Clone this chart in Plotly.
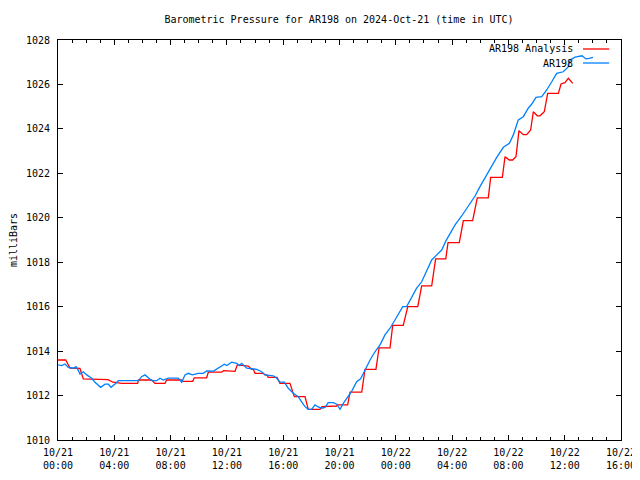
import pandas as pd
import plotly.graph_objects as go

# ---------------- data ----------------
START = pd.Timestamp("2024-10-21 00:00")

# AR198 Analysis (hours since 2024-10-21 00:00 UTC, millibars)
analysis_hours = [0.00, 0.55, 0.71, 0.85, 1.56, 1.80, 3.55, 3.91, 4.53, 5.66, 5.71, 6.66, 6.89, 7.60,
                  7.72, 8.79, 8.88, 9.57, 9.68, 10.56, 10.68, 11.63, 11.76, 11.86, 12.01, 12.58, 12.74,
                  13.52, 13.76, 13.88, 14.00, 14.59, 14.71, 14.83, 14.94, 15.56, 15.77, 16.48, 16.79,
                  17.55, 17.78, 18.61, 18.76, 19.11, 19.18, 19.80, 19.86, 20.58, 20.75, 21.58, 21.81,
                  22.59, 22.81, 23.59, 23.78, 24.53, 24.85, 25.56, 25.84, 26.55, 26.83, 27.55, 27.71,
                  28.51, 28.80, 29.46, 29.79, 30.57, 30.74, 31.57, 31.76, 32.06, 32.30, 32.54, 32.75,
                  33.06, 33.30, 33.58, 33.77, 34.05, 34.24, 34.55, 34.79, 35.55, 35.74, 36.02, 36.26,
                  36.57]
analysis_mb = [1013.60, 1013.60, 1013.41, 1013.24, 1013.22, 1012.75, 1012.72, 1012.60, 1012.55, 1012.55,
               1012.70, 1012.70, 1012.55, 1012.55, 1012.70, 1012.70, 1012.64, 1012.64, 1012.80, 1012.80,
               1013.05, 1013.05, 1013.12, 1013.12, 1013.09, 1013.09, 1013.38, 1013.33, 1013.18, 1013.18,
               1013.00, 1013.00, 1012.93, 1012.93, 1012.82, 1012.82, 1012.55, 1012.55, 1011.95, 1011.95,
               1011.38, 1011.38, 1011.50, 1011.50, 1011.53, 1011.53, 1011.58, 1011.58, 1012.15, 1012.15,
               1013.18, 1013.18, 1014.15, 1014.15, 1015.16, 1015.16, 1016.00, 1016.00, 1016.94, 1016.94,
               1018.15, 1018.15, 1018.88, 1018.88, 1019.87, 1019.87, 1020.90, 1020.90, 1021.82, 1021.82,
               1022.75, 1022.60, 1022.60, 1022.75, 1023.92, 1023.74, 1023.74, 1023.95, 1024.77, 1024.59,
               1024.59, 1024.77, 1025.60, 1025.60, 1026.02, 1026.08, 1026.28, 1026.05]

# AR198 observations
obs_hours = [0.02, 0.26, 0.50, 0.73, 1.09, 1.28, 1.45, 1.56, 1.80, 2.04, 2.39, 2.63, 3.03, 3.34, 3.58,
             3.77, 4.05, 4.29, 5.71, 5.94, 6.18, 6.42, 6.66, 7.01, 7.25, 7.48, 7.84, 8.55, 8.79, 9.02,
             9.26, 9.54, 9.97, 10.32, 10.56, 11.05, 11.51, 11.82, 11.99, 12.34, 12.70, 12.88, 13.05,
             13.41, 14.12, 14.47, 14.71, 15.30, 15.54, 15.77, 16.08, 16.36, 16.72, 17.07, 17.31, 17.55,
             17.78, 18.02, 18.26, 18.45, 18.73, 18.97, 19.20, 19.56, 19.80, 20.04, 20.27, 20.57, 20.87,
             21.22, 21.50, 21.81, 22.17, 22.52, 22.88, 23.23, 23.59, 23.94, 24.49, 24.77, 25.13, 25.48,
             25.84, 26.20, 26.55, 26.91, 27.26, 27.55, 27.85, 28.21, 28.68, 29.27, 29.63, 29.98, 30.34,
             30.69, 31.17, 31.64, 32.07, 32.35, 32.70, 33.06, 33.41, 33.66, 33.96, 34.37, 34.72, 35.08,
             35.43, 35.90, 36.26, 36.38, 36.74, 37.23, 37.51, 37.73, 38.01]
obs_mb = [1013.38, 1013.35, 1013.42, 1013.27, 1013.23, 1013.30, 1013.12, 1012.97, 1013.07, 1012.93,
          1012.78, 1012.60, 1012.37, 1012.51, 1012.51, 1012.37, 1012.52, 1012.67, 1012.67, 1012.85,
          1012.93, 1012.82, 1012.67, 1012.67, 1012.78, 1012.70, 1012.78, 1012.78, 1012.60, 1012.93,
          1013.00, 1012.93, 1013.00, 1013.00, 1013.11, 1013.10, 1013.30, 1013.41, 1013.35, 1013.50,
          1013.45, 1013.35, 1013.45, 1013.23, 1013.18, 1013.07, 1012.93, 1012.89, 1012.78, 1012.60,
          1012.60, 1012.33, 1012.10, 1011.95, 1011.72, 1011.50, 1011.38, 1011.38, 1011.58, 1011.50,
          1011.43, 1011.47, 1011.68, 1011.68, 1011.61, 1011.38, 1011.65, 1011.92, 1012.20, 1012.62,
          1012.75, 1013.14, 1013.60, 1013.97, 1014.28, 1014.73, 1015.03, 1015.40, 1016.00, 1016.00,
          1016.45, 1016.83, 1017.12, 1017.65, 1018.10, 1018.33, 1018.55, 1018.95, 1019.30, 1019.68,
          1020.08, 1020.65, 1020.98, 1021.40, 1021.82, 1022.23, 1022.72, 1023.17, 1023.35, 1023.73,
          1024.40, 1024.55, 1024.93, 1025.12, 1025.42, 1025.45, 1025.75, 1026.12, 1026.50, 1026.57,
          1026.80, 1027.10, 1027.23, 1027.29, 1027.15, 1027.17, 1027.22]

tick_hours = [0, 4, 8, 12, 16, 20, 24, 28, 32, 36, 40]
tick_labels = ["10/21<br>00:00", "10/21<br>04:00", "10/21<br>08:00", "10/21<br>12:00",
               "10/21<br>16:00", "10/21<br>20:00", "10/22<br>00:00", "10/22<br>04:00",
               "10/22<br>08:00", "10/22<br>12:00", "10/22<br>16:00"]
y_ticks = [1010, 1012, 1014, 1016, 1018, 1020, 1022, 1024, 1026, 1028]

series_names = ["AR198 Analysis", "AR198"]
series_colors = ["#ff0000", "#0080ff"]

# ---------------- figure ----------------
def to_time(hours):
    return [START + pd.Timedelta(hours=h) for h in hours]

FONT = "DejaVu Sans Mono"

fig = go.Figure()
fig.add_trace(go.Scatter(x=to_time(analysis_hours), y=analysis_mb, mode="lines",
                         name=series_names[0], line=dict(color=series_colors[0], width=1.3),
                         showlegend=False))
fig.add_trace(go.Scatter(x=to_time(obs_hours), y=obs_mb, mode="lines",
                         name=series_names[1], line=dict(color=series_colors[1], width=1.3),
                         showlegend=False))

# legend drawn gnuplot-style: text right-aligned, sample line on the right
leg_y = [0.9775, 0.9425]
for name, col, yy in zip(series_names, series_colors, leg_y):
    fig.add_annotation(x=0.919, y=yy, xref="paper", yref="paper", text=name,
                       showarrow=False, xanchor="right", yanchor="middle",
                       font=dict(family=FONT, size=10, color="black"))
    fig.add_shape(type="line", xref="paper", yref="paper", x0=0.9325, x1=0.979,
                  y0=yy, y1=yy, line=dict(color=col, width=1.3))

# page body has an 8px margin, so the figure is sized/offset to land the plot box
# at the reference's position in the 640x480 window
fig.update_layout(
    width=632, height=472,
    margin=dict(l=50, r=19, t=32, b=40, autoexpand=False),
    paper_bgcolor="white", plot_bgcolor="white",
    font=dict(family=FONT, size=10, color="black"),
    title=dict(text="Barometric Pressure for AR198 on 2024-Oct-21 (time in UTC)",
               xref="container", yref="container",
               x=0.5237, xanchor="center", y=0.9746, yanchor="middle", automargin=False,
               font=dict(family=FONT, size=10, color="black")),
)
fig.update_xaxes(
    range=[START, START + pd.Timedelta(hours=40)],
    tickvals=to_time(tick_hours), ticktext=tick_labels,
    ticks="inside", ticklen=5, tickcolor="black", tickwidth=1, ticklabelstandoff=3,
    minor=dict(dtick=3600000, ticks="inside", ticklen=3, tickcolor="black", showgrid=False),
    showline=True, linecolor="black", linewidth=1, mirror="allticks",
    showgrid=False, zeroline=False, automargin=False,
    tickfont=dict(family=FONT, size=10, color="black"),
)
fig.update_yaxes(
    range=[1010, 1028], tickvals=y_ticks,
    ticks="inside", ticklen=5, tickcolor="black", tickwidth=1, ticklabelstandoff=5,
    showline=True, linecolor="black", linewidth=1, mirror="allticks",
    showgrid=False, zeroline=False, automargin=False,
    title=dict(text="milliBars", standoff=10, font=dict(family=FONT, size=10, color="black")),
    tickfont=dict(family=FONT, size=10, color="black"),
)

fig.write_html("out.html")
